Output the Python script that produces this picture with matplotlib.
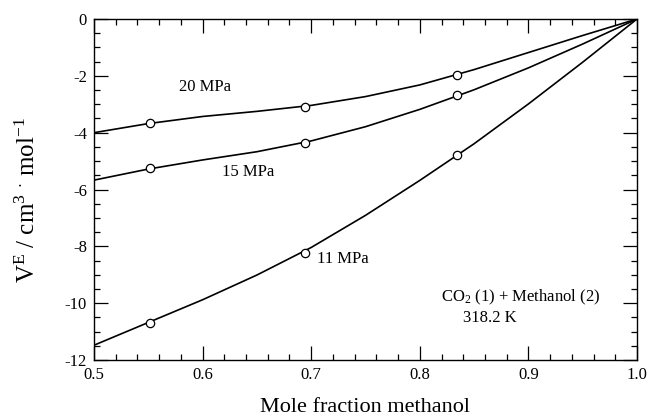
import matplotlib
matplotlib.use("Agg")
import matplotlib.pyplot as plt
from matplotlib.ticker import MultipleLocator

plt.rcParams['font.family'] = ['Liberation Serif', 'DejaVu Serif']
plt.rcParams['mathtext.fontset'] = 'custom'
plt.rcParams['mathtext.rm'] = 'Liberation Serif'
plt.rcParams['mathtext.it'] = 'Liberation Serif:italic'

# smooth fitted curves
x_curve = [0.50, 0.55, 0.60, 0.65, 0.70, 0.75, 0.80, 0.85, 0.90, 0.95, 1.00]
ve_20_curve = [-4.00, -3.68, -3.43, -3.25, -3.04, -2.73, -2.32, -1.78, -1.18, -0.58, 0.0]
ve_15_curve = [-5.67, -5.28, -4.96, -4.67, -4.29, -3.79, -3.18, -2.49, -1.72, -0.88, 0.0]
ve_11_curve = [-11.48, -10.68, -9.88, -9.01, -8.04, -6.91, -5.68, -4.39, -2.99, -1.52, 0.0]

# experimental points
x_pts = [0.552, 0.694, 0.834]
ve_20_pts = [-3.65, -3.11, -1.98]
ve_15_pts = [-5.26, -4.38, -2.69]
ve_11_pts = [-10.70, -8.22, -4.79]

fig = plt.figure(figsize=(6.47, 4.17), dpi=100)
ax = fig.add_axes([0.1453, 0.1367, 0.8392, 0.8177])

for yc, yp in [(ve_20_curve, ve_20_pts), (ve_15_curve, ve_15_pts), (ve_11_curve, ve_11_pts)]:
    ax.plot(x_curve, yc, color='black', lw=1.2, zorder=2, solid_joinstyle='round')
    ax.plot(x_pts, yp, 'o', ms=6, mfc='white', mec='black', mew=0.9, zorder=3)

ax.set_xlim(0.5, 1.0)
ax.set_ylim(-12, 0)
ax.xaxis.set_minor_locator(MultipleLocator(0.02))
ax.yaxis.set_minor_locator(MultipleLocator(0.5))
ax.set_xticks([0.5, 0.6, 0.7, 0.8, 0.9, 1.0])
ax.set_xticklabels(['0.5', '0.6', '0.7', '0.8', '0.9', '1.0'])
ax.set_yticks([0, -2, -4, -6, -8, -10, -12])
ax.set_yticklabels(['0', '-2', '-4', '-6', '-8', '-10', '-12'])
ax.tick_params(which='both', direction='in', top=True, right=True, labelsize=12, width=0.9)
ax.tick_params(which='major', length=10)
ax.tick_params(which='minor', length=4.5)
ax.tick_params(axis='x', pad=5)
ax.tick_params(axis='y', pad=5)
for s in ax.spines.values():
    s.set_linewidth(1.0)

ax.set_xlabel('Mole fraction methanol', fontsize=16, labelpad=11)
ax.set_ylabel(r'V$^{\mathrm{E}}$ / cm$^{3}$ $^{\cdot}$ mol$^{-1}$', fontsize=18)
ax.yaxis.set_label_coords(-0.10, 0.47)

ax.text(0.578, -2.39, '20 MPa', fontsize=12, va='center', ha='left')
ax.text(0.618, -5.38, '15 MPa', fontsize=12, va='center', ha='left')
ax.text(0.705, -8.44, '11 MPa', fontsize=12, va='center', ha='left')
ax.text(0.8195, -9.81, r'CO$_2$ (1) + Methanol (2)', fontsize=12, va='center', ha='left')
ax.text(0.840, -10.52, '318.2 K', fontsize=12, va='center', ha='left')

fig.savefig('out.png', dpi=100)
